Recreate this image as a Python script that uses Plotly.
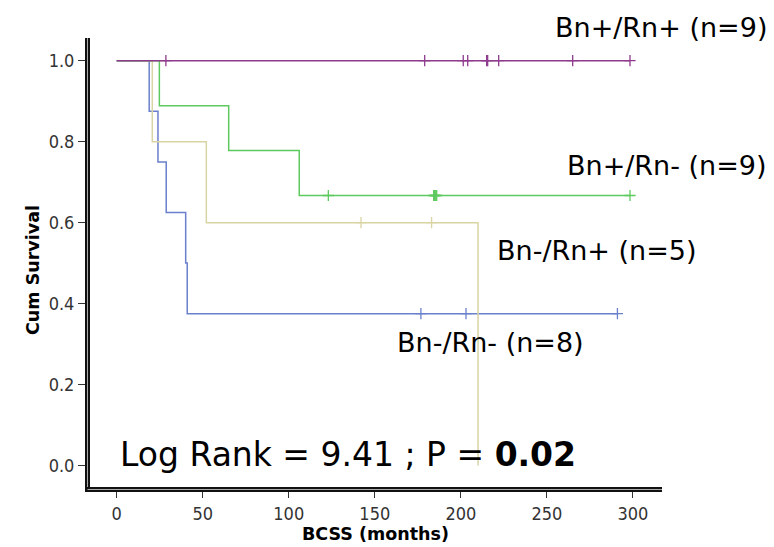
import plotly.graph_objects as go

# ---- data ----
groups = ["Bn+/Rn+ (n=9)", "Bn+/Rn- (n=9)", "Bn-/Rn+ (n=5)", "Bn-/Rn- (n=8)"]

# step curves: times (months) and survival after each time
purple_t = [0, 298.3]
purple_s = [1.0, 1.0]
purple_cens = [28.6, 179, 201.4, 204, 215.0, 215.6, 222, 265, 298.3]

green_t = [0, 24.8, 65.1, 106.1, 298.3]
green_s = [1.0, 0.889, 0.778, 0.667, 0.667]
green_cens = [123, 184.2, 184.8, 185.4, 186.0, 298.3]

yellow_t = [0, 20.7, 52.1, 210.0]
yellow_s = [1.0, 0.8, 0.6, 0.0]
yellow_cens = [142, 183]

blue_t = [0, 18.9, 24.0, 28.8, 40.1, 41.0, 291]
blue_s = [1.0, 0.875, 0.75, 0.625, 0.5, 0.375, 0.375]
blue_cens = [176.8, 203, 291]

colors = ["#8e3b8e", "#5ec95e", "#d9d4a4", "#6a80cc"]

x_ticks = [0, 50, 100, 150, 200, 250, 300]
y_ticks = [0.0, 0.2, 0.4, 0.6, 0.8, 1.0]
y_ticklabels = ["0.0", "0.2", "0.4", "0.6", "0.8", "1.0"]


def step_value(ts, ss, t):
    v = ss[0]
    for ti, si in zip(ts, ss):
        if ti <= t:
            v = si
    return v


fig = go.Figure()
series = [
    (blue_t, blue_s, blue_cens, colors[3]),
    (yellow_t, yellow_s, yellow_cens, colors[2]),
    (green_t, green_s, green_cens, colors[1]),
    (purple_t, purple_s, purple_cens, colors[0]),
]
for ts, ss, cens, c in series:
    fig.add_trace(go.Scatter(x=ts, y=ss, mode="lines", line=dict(color=c, width=1.5, shape="hv"),
                             showlegend=False, hoverinfo="skip"))
    fig.add_trace(go.Scatter(x=cens, y=[step_value(ts, ss, t) for t in cens], mode="markers",
                             marker=dict(symbol="cross-thin", size=8, line=dict(width=1.3, color=c)),
                             showlegend=False, hoverinfo="skip"))

tickfont = dict(family="DejaVu Sans Condensed, DejaVu Sans", size=18, color="#333")
fig.update_xaxes(range=[-15.5, 316.9], tickvals=x_ticks, ticks="outside", ticklen=10, tickcolor="#333",
                 tickwidth=1, showgrid=False, zeroline=False, showline=False, tickfont=tickfont)
fig.update_yaxes(range=[-0.0531, 1.0561], tickvals=y_ticks, ticktext=y_ticklabels, ticks="outside",
                 ticklen=11, tickcolor="#333", tickwidth=1, showgrid=False, zeroline=False,
                 showline=False, tickfont=tickfont)

shapes = []
# left double axis line
shapes.append(dict(type="rect", xref="paper", yref="paper", xsizemode="pixel", ysizemode="pixel",
                   xanchor=0, yanchor=0, x0=-5, x1=0, y0=-5, y1=449,
                   fillcolor="#111", line=dict(width=0), layer="above"))
shapes.append(dict(type="line", xref="paper", yref="paper", xsizemode="pixel", ysizemode="pixel",
                   xanchor=0, yanchor=0, x0=-2.5, x1=-2.5, y0=-2.5, y1=449,
                   line=dict(color="#aaa", width=1), layer="above"))
# bottom double axis line
shapes.append(dict(type="rect", xref="paper", yref="paper", xsizemode="pixel", ysizemode="pixel",
                   xanchor=0, yanchor=0, x0=-5, x1=572, y0=-5, y1=0,
                   fillcolor="#111", line=dict(width=0), layer="above"))
shapes.append(dict(type="line", xref="paper", yref="paper", xsizemode="pixel", ysizemode="pixel",
                   xanchor=0, yanchor=0, x0=-2.5, x1=572, y0=-2.5, y1=-2.5,
                   line=dict(color="#aaa", width=1), layer="above"))

lab_font = dict(family="DejaVu Sans", size=27, color="black")
title_font = dict(family="DejaVu Sans", size=17.5, color="black")
annotations = [
    dict(text=groups[0], x=(553 - 90) / 572, y=(487 - 28) / 449, xref="paper", yref="paper",
         xanchor="left", yanchor="middle", showarrow=False, font=lab_font),
    dict(text=groups[1], x=260.5, y=0.742, xref="x", yref="y", xanchor="left", yanchor="middle",
         showarrow=False, font=lab_font),
    dict(text=groups[2], x=219.8, y=0.532, xref="x", yref="y", xanchor="left", yanchor="middle",
         showarrow=False, font=lab_font),
    dict(text=groups[3], x=161.7, y=0.303, xref="x", yref="y", xanchor="left", yanchor="middle",
         showarrow=False, font=lab_font),
    dict(text="Log Rank = 9.41 ; P = <b>0.02</b>", x=0.75, y=0.028, xref="x", yref="y",
         xanchor="left", yanchor="middle", showarrow=False,
         font=dict(family="DejaVu Sans", size=33, color="black")),
    dict(text="<b>Cum Survival</b>", x=(33 - 90) / 572, y=(487 - 270) / 449, xref="paper", yref="paper",
         textangle=-90, xanchor="center", yanchor="middle", showarrow=False, font=title_font),
    dict(text="<b>BCSS (months)</b>", x=(375 - 90) / 572, y=(487 - 534) / 449, xref="paper",
         yref="paper", xanchor="center", yanchor="middle", showarrow=False, font=title_font),
]

fig.update_layout(width=774, height=547, margin=dict(l=90, r=112, t=38, b=60, pad=0),
                  paper_bgcolor="white", plot_bgcolor="white", shapes=shapes,
                  annotations=annotations, showlegend=False)

fig.write_html("out.html")
